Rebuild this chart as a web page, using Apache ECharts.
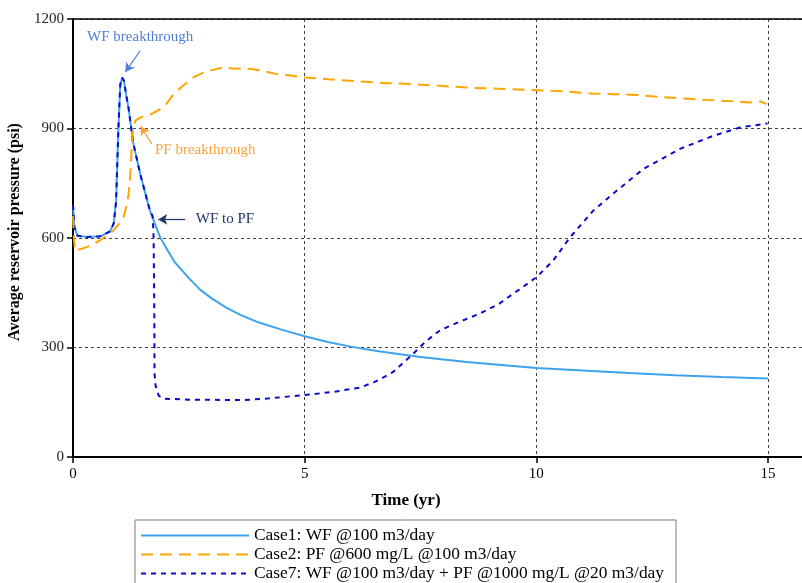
<!DOCTYPE html>
<html>
<head>
<meta charset="utf-8">
<script src="https://cdn.jsdelivr.net/npm/echarts@6/dist/echarts.min.js"></script>
<style>
  html, body { margin: 0; padding: 0; background: #fff; }
  #chart { width: 802px; height: 583px; }
</style>
</head>
<body>
<div id="chart"></div>
<script>
// Average reservoir pressure (psi) versus time (yr), [time, pressure] pairs
const case1 = [
  [0, 690], [0.03, 630], [0.1, 606], [0.3, 603], [0.6, 605], [0.8, 618], [0.88, 640],
  [0.93, 700], [0.98, 900], [1.02, 1020], [1.06, 1040], [1.1, 1030], [1.15, 990],
  [1.2, 955], [1.3, 860], [1.45, 776], [1.66, 675], [1.88, 602], [2.0, 575], [2.2, 533],
  [2.5, 490], [2.75, 458], [3.0, 434], [3.3, 410], [3.6, 390], [4.0, 369], [4.5, 349],
  [5, 331], [5.5, 315], [6.05, 301], [6.63, 289], [7.5, 274], [8.5, 260], [10, 244],
  [11, 237], [12, 230], [13, 224], [14, 219], [15, 215]
];
const case2 = [
  [0, 660], [0.02, 600], [0.04, 565], [0.08, 561], [0.3, 575], [0.58, 593], [0.87, 620],
  [1.0, 640], [1.09, 657], [1.16, 690], [1.2, 720], [1.23, 760], [1.26, 830], [1.29, 890],
  [1.34, 921], [1.45, 930], [1.7, 940], [1.88, 953], [2.0, 965], [2.17, 994], [2.4, 1020],
  [2.6, 1040], [2.81, 1053], [3.0, 1060], [3.24, 1067], [3.5, 1064], [3.75, 1065],
  [4.1, 1058], [4.4, 1049], [4.7, 1045], [5.0, 1040], [5.5, 1035], [6.19, 1029],
  [6.8, 1024], [7.3, 1022], [7.92, 1017], [8.5, 1012], [9.2, 1009], [10.0, 1005],
  [10.6, 1002], [11.2, 996], [11.7, 994], [12.17, 992], [12.7, 986], [13.2, 982],
  [13.68, 978], [14.2, 975], [14.61, 971], [14.85, 974], [14.97, 967]
];
const case7 = [
  [0, 690], [0.03, 630], [0.1, 606], [0.3, 603], [0.6, 605], [0.8, 618], [0.88, 640],
  [0.93, 700], [0.98, 900], [1.02, 1020], [1.06, 1040], [1.1, 1030], [1.15, 990],
  [1.2, 955], [1.3, 860], [1.45, 776], [1.66, 675], [1.72, 660], [1.74, 600],
  [1.755, 400], [1.76, 229], [1.78, 197], [1.85, 168], [1.95, 160], [2.5, 157],
  [3.68, 156], [4.2, 160], [4.75, 167], [5.0, 170], [5.6, 178], [6.19, 190], [6.5, 205],
  [6.73, 220], [6.91, 233], [7.1, 255], [7.31, 279], [7.6, 315], [7.92, 347], [8.3, 368],
  [8.78, 393], [9.2, 420], [9.5, 447], [10.01, 493], [10.37, 539], [10.73, 602],
  [11.23, 675], [11.74, 730], [12.31, 789], [13.1, 844], [13.82, 880], [14.4, 903], [14.99, 914]
];

const seriesNames = [
  'Case1: WF @100 m3/day',
  'Case2: PF @600 mg/L @100 m3/day',
  'Case7: WF @100 m3/day + PF @1000 mg/L @20 m3/day'
];
const xTicks = [0, 5, 10, 15];
const yTicks = [0, 300, 600, 900, 1200];

const serif = '"Liberation Serif", "Times New Roman", serif';

// annotation callouts: arrow from -> to, and the text anchor (data units)
function callout(color, from, to, textAt, text, align) {
  return {
    markLine: {
      silent: true,
      symbol: ['none', 'arrow'],
      symbolSize: [8, 9],
      lineStyle: { color: color, type: 'solid', width: 1.2 },
      label: { show: false },
      data: [[{ coord: from }, { coord: to }]]
    },
    markPoint: {
      silent: true,
      symbol: 'circle',
      symbolSize: 0,
      data: [{ coord: textAt, name: text }],
      label: {
        show: true, position: 'inside', formatter: '{b}', align: align,
        color: color, fontFamily: serif, fontSize: 15
      }
    }
  };
}

const chart = echarts.init(document.getElementById('chart'));
chart.setOption({
  animation: false,
  grid: { left: 73, top: 19, width: 732, bottom: 126, outerBoundsMode: 'none', containLabel: false },
  legend: {
    orient: 'vertical',
    left: 135, top: 520, height: 80,
    itemWidth: 108, itemHeight: 12, itemGap: 0,
    padding: [6, 12, 8, 5],
    borderColor: '#7a7a7a', borderWidth: 1,
    itemStyle: { opacity: 0, borderWidth: 0 },
    textStyle: { fontFamily: serif, fontSize: 17.4, lineHeight: 19, color: '#000' },
    data: seriesNames
  },
  xAxis: [{
    type: 'value', min: 0, max: 15.8, interval: 5,
    name: 'Time (yr)', nameLocation: 'middle', nameGap: 35,
    nameTextStyle: { fontFamily: serif, fontSize: 17, fontWeight: 'bold', color: '#000', padding: [0, 66, 0, 0] },
    axisLine: { lineStyle: { color: '#000', width: 2 } },
    axisTick: { show: true, length: 6, lineStyle: { color: '#000', width: 1.5 } },
    axisLabel: {
      fontFamily: serif, fontSize: 15, color: '#000', margin: 10,
      formatter: v => (xTicks.indexOf(v) >= 0 ? String(v) : '')
    },
    splitLine: { show: true, showMaxLine: false, lineStyle: { color: '#444', type: [3, 3], width: 1 } }
  }, {
    type: 'value', position: 'top', min: 0, max: 15.8, interval: 5,
    axisLine: { show: true, lineStyle: { color: '#000', width: 1.5 } },
    axisTick: { show: false }, axisLabel: { show: false }, splitLine: { show: false }
  }],
  yAxis: {
    type: 'value', min: 0, max: 1200, interval: 300,
    name: 'Average reservoir pressure (psi)', nameLocation: 'middle', nameGap: 42,
    nameTextStyle: { fontFamily: serif, fontSize: 16, fontWeight: 'bold', color: '#000', padding: [0, 0, 0, 12] },
    axisLine: { show: true, lineStyle: { color: '#000', width: 2 } },
    axisTick: { show: true, length: 6, lineStyle: { color: '#000', width: 1.5 } },
    axisLabel: {
      fontFamily: serif, fontSize: 15, color: '#222', margin: 9,
      formatter: v => (yTicks.indexOf(v) >= 0 ? String(v) : '')
    },
    splitLine: { show: true, lineStyle: { color: '#444', type: [3, 3], width: 1 } }
  },
  series: [
    Object.assign({
      name: seriesNames[2], type: 'line', data: case7, showSymbol: false, symbol: 'none',
      z: 3,
      lineStyle: { color: '#0a0ac8', width: 2, type: [5, 5] },
      itemStyle: { color: '#0a0ac8' }
    }, callout('#1f3566', [2.42, 651], [1.84, 651], [2.65, 651], 'WF to PF', 'left')),
    Object.assign({
      name: seriesNames[0], type: 'line', data: case1, showSymbol: false, symbol: 'none',
      z: 2,
      lineStyle: { color: '#3fa3ec', width: 2 },
      itemStyle: { color: '#3fa3ec' }
    }, callout('#4f7fd6', [1.45, 1113], [1.13, 1055], [1.45, 1151], 'WF breakthrough', 'center')),
    Object.assign({
      name: seriesNames[1], type: 'line', data: case2, showSymbol: false, symbol: 'none',
      z: 4,
      lineStyle: { color: '#ffa500', width: 2, type: [12, 7] },
      itemStyle: { color: '#ffa500' }
    }, callout('#f7a33a', [1.70, 858], [1.46, 906], [1.77, 842], 'PF breakthrough', 'left'))
  ]
});
</script>
</body>
</html>
